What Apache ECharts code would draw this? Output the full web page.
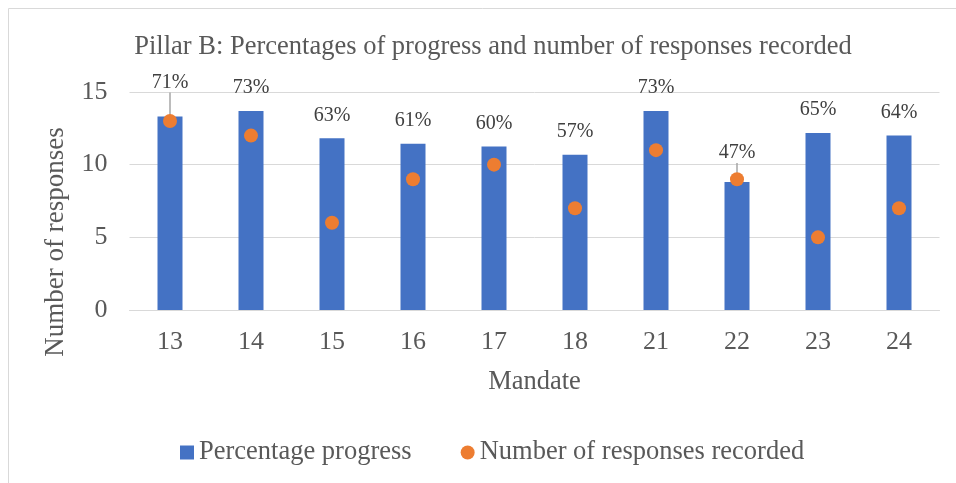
<!DOCTYPE html>
<html><head><meta charset="utf-8">
<script src="https://cdn.jsdelivr.net/npm/echarts@6/dist/echarts.min.js"></script>
<style>html,body{margin:0;padding:0;background:#fff}#c{width:956px;height:483px}</style>
</head><body><div id="c"></div>
<script>
const categories = ['13','14','15','16','17','18','21','22','23','24'];
const percentProgress = [0.71,0.73,0.63,0.61,0.60,0.57,0.73,0.47,0.65,0.64];
const responses = [13,12,6,9,10,7,11,9,5,7];
const labelLift = [-11,0,0,0,0,0,0,-6,0,0];

const chart = echarts.init(document.getElementById('c'));
const font = 'Liberation Serif, Times New Roman, serif';
const barData = percentProgress.map((v,i)=>({value:v,labelLine:{show:labelLift[i]!==0}}));
chart.setOption({
  animation:false,
  textStyle:{fontFamily:font},
  title:{text:'Pillar B: Percentages of progress and number of responses recorded',left:488,textAlign:'center',top:29,
    textStyle:{fontFamily:font,fontSize:26.5,fontWeight:'normal',color:'#595959'}},
  graphic:[
    {type:'rect',shape:{x:8.5,y:8.5,width:960,height:490},style:{fill:'none',stroke:'#d9d9d9',lineWidth:1},silent:true},
    {type:'text',x:56,y:242,rotation:Math.PI/2,silent:true,
      style:{text:'Number of responses',font:'27px '+font,fill:'#595959',align:'center',verticalAlign:'middle'}}
  ],
  legend:{top:434,left:175,itemGap:49,itemWidth:14,itemHeight:14,
    textStyle:{fontFamily:font,fontSize:26.5,color:'#595959'},
    data:[{name:'Percentage progress',icon:'rect'},{name:'Number of responses recorded',icon:'circle'}]},
  grid:{left:129.5,right:16.5,top:92,bottom:173},
  xAxis:{type:'category',data:categories,name:'Mandate',nameLocation:'middle',nameGap:59,
    nameTextStyle:{fontFamily:font,fontSize:26.5,color:'#595959'},
    axisLine:{lineStyle:{color:'#d9d9d9'}},axisTick:{show:false},
    axisLabel:{fontFamily:font,fontSize:26,color:'#595959',margin:19}},
  yAxis:[{type:'value',min:0,max:15,interval:5,
    axisLabel:{fontFamily:font,fontSize:26,color:'#595959',margin:22},
    splitLine:{lineStyle:{color:'#d9d9d9'}},axisLine:{show:false},axisTick:{show:false}},
    {type:'value',min:0,max:0.8,show:false,splitLine:{show:false}}],
  series:[
    {name:'Percentage progress',type:'bar',yAxisIndex:1,data:barData,barWidth:25,
      itemStyle:{color:'#4472C4'},
      label:{show:true,position:'top',distance:13,fontFamily:font,fontSize:20,color:'#404040',
        formatter:p=>Math.round(p.value*100)+'%'},
      labelLine:{show:false,lineStyle:{color:'#a6a6a6',width:1.5}},
      labelLayout:p=>({dy:labelLift[p.dataIndex]})},
    {name:'Number of responses recorded',type:'scatter',data:responses,symbolSize:14,
      itemStyle:{color:'#ED7D31',opacity:1},z:5}
  ]
});
</script></body></html>
